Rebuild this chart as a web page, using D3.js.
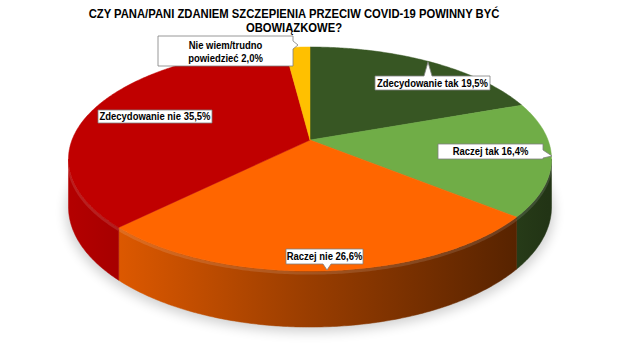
<!DOCTYPE html>
<html>
<head>
<meta charset="utf-8">
<script src="https://cdn.jsdelivr.net/npm/d3@7"></script>
<style>
  body { margin: 0; background: #fff; }
  text { font-family: "Liberation Sans", Arial, sans-serif; font-weight: bold; fill: #000; }
</style>
</head>
<body>
<div id="chart"></div>
<script>
// data
const titleLines = ["CZY PANA/PANI ZDANIEM SZCZEPIENIA PRZECIW COVID-19 POWINNY BYĆ", "OBOWIĄZKOWE?"];
const categories = ["Zdecydowanie tak", "Raczej tak", "Raczej nie", "Zdecydowanie nie", "Nie wiem/trudno powiedzieć"];
const values = [19.5, 16.4, 26.6, 35.5, 2.0];
const colors = ["#375623", "#70AD47", "#FF6600", "#C00000", "#FFC000"];
const labelLines = [
    ["Zdecydowanie tak 19,5%"],
    ["Raczej tak 16,4%"],
    ["Raczej nie 26,6%"],
    ["Zdecydowanie nie 35,5%"],
    ["Nie wiem/trudno", "powiedzieć  2,0%"]
];

// layout of the callouts (box + pointer tip), same order as categories
const labelBoxes = [
    { x: 375, y: 76, w: 115, h: 14, tip: [428, 62] },
    { x: 438, y: 144, w: 105, h: 15, tip: [552, 156] },
    { x: 286, y: 249, w: 77, h: 15, tip: [327, 270] },
    { x: 98, y: 110, w: 114, h: 13, tip: null },
    { x: 158, y: 36, w: 135, h: 30, tip: [298, 45] }
];

const width = 625, height = 355;
// pie seen in perspective: centre of the disc, radii, thickness, perspective strength
const cx = 310, cy = 140, A = 238, B = 108.8, depth = 56, p = 0.17;
const narrow = 0.86; // squeeze Liberation Sans towards Calibri widths

const svg = d3.select("#chart").append("svg")
    .attr("width", width)
    .attr("height", height);

const defs = svg.append("defs");
defs.append("filter").attr("id", "blur")
    .attr("x", "-20%").attr("y", "-30%").attr("width", "140%").attr("height", "160%")
    .append("feGaussianBlur").attr("stdDeviation", 6);

// project an angle (0 = top, clockwise) onto the tilted disc; side = 1 for the bottom rim
function proj(a, side = 0) {
    const u = Math.sin(a), w = -Math.cos(a), D = 1 - p * w;
    return [cx + A * u / D, cy + B * w / D + side * depth * (1 - p) / D];
}
function arcPoints(a0, a1, side = 0) {
    const n = Math.max(2, Math.ceil(Math.abs(a1 - a0) / 0.01));
    return d3.range(n + 1).map(i => proj(a0 + (a1 - a0) * i / n, side));
}

// silhouette angles where the rim turns away
const aR = Math.acos(-p), aL = 2 * Math.PI - aR;

const pie = d3.pie().sort(null).value(d => d)(values);
const line = d3.line();

// shadow
const shadowPts = arcPoints(0, 2 * Math.PI, 1).map(q => [cx + (q[0] - cx) * 1.01, q[1] + 5]);
svg.append("path")
    .attr("d", line(shadowPts) + "Z")
    .attr("fill", "#000")
    .attr("opacity", 0.18)
    .attr("filter", "url(#blur)");

// side gradients
function scaleColor(c, f) {
    const r = d3.rgb(c);
    return d3.rgb(r.r * f, r.g * f, r.b * f).formatHex();
}
pie.forEach((d, i) => {
    const g = defs.append("linearGradient")
        .attr("id", "side" + i)
        .attr("gradientUnits", "userSpaceOnUse")
        .attr("x1", cx - A).attr("x2", cx + A)
        .attr("y1", 0).attr("y2", 0);
    [[0, 0.93], [0.5, 0.6], [1, 0.3]].forEach(s => {
        g.append("stop").attr("offset", s[0]).attr("stop-color", scaleColor(colors[i], s[1]));
    });
});

// sides (front half only)
const sides = svg.append("g");
pie.forEach((d, i) => {
    const s0 = Math.max(d.startAngle, aR), s1 = Math.min(d.endAngle, aL);
    if (s1 <= s0) return;
    const top = arcPoints(s0, s1);
    const bot = arcPoints(s1, s0, 1);
    sides.append("path")
        .attr("d", line(top.concat(bot)) + "Z")
        .attr("fill", `url(#side${i})`)
        .attr("stroke", `url(#side${i})`)
        .attr("stroke-width", 0.5);
    // light rim along the top edge of the side
    sides.append("path")
        .attr("d", line(arcPoints(s0, s1).map(q => [q[0], q[1] + 2])))
        .attr("fill", "none")
        .attr("stroke", "#fff")
        .attr("stroke-opacity", 0.12)
        .attr("stroke-width", 3);
});

// top faces
const tops = svg.append("g");
pie.forEach((d, i) => {
    const pts = [[cx, cy]].concat(arcPoints(d.startAngle, d.endAngle));
    tops.append("path")
        .attr("d", line(pts) + "Z")
        .attr("fill", colors[i])
        .attr("stroke", colors[i])
        .attr("stroke-width", 0.5);
});

function squeeze(sel, f) {
    sel.each(function () {
        const w = this.getComputedTextLength();
        d3.select(this).attr("textLength", w * f).attr("lengthAdjust", "spacingAndGlyphs");
    });
}

// title
svg.append("g").selectAll("text")
    .data(titleLines)
    .enter()
    .append("text")
    .attr("x", 294)
    .attr("y", (d, i) => 18 + i * 14)
    .attr("text-anchor", "middle")
    .attr("font-size", 12.5)
    .text(d => d)
    .call(squeeze, 0.9);

// callouts
function calloutPath(b, tip) {
    const x0 = b.x, y0 = b.y, x1 = b.x + b.w, y1 = b.y + b.h, hw = 4;
    const pts = [[x0, y0]];
    if (tip && tip[1] < y0) {
        const c = Math.min(Math.max(tip[0], x0 + 6), x1 - 6);
        pts.push([c - hw, y0], tip, [c + hw, y0]);
    }
    pts.push([x1, y0]);
    if (tip && tip[0] > x1) {
        const c = Math.min(Math.max(tip[1], y0 + 5), y1 - 5);
        pts.push([x1, c - hw], tip, [x1, c + hw]);
    }
    pts.push([x1, y1]);
    if (tip && tip[1] > y1) {
        const c = Math.min(Math.max(tip[0], x0 + 6), x1 - 6);
        pts.push([c + hw, y1], tip, [c - hw, y1]);
    }
    pts.push([x0, y1]);
    if (tip && tip[0] < x0) {
        const c = Math.min(Math.max(tip[1], y0 + 5), y1 - 5);
        pts.push([x0, c + hw], tip, [x0, c - hw]);
    }
    return line(pts) + "Z";
}

const labels = svg.append("g");
labelBoxes.forEach((b, i) => {
    const g = labels.append("g");
    g.append("path")
        .attr("d", calloutPath(b, b.tip))
        .attr("fill", "#fff")
        .attr("stroke", "#7f7f7f")
        .attr("stroke-width", 0.8);
    const lines = labelLines[i];
    g.selectAll("text")
        .data(lines)
        .enter()
        .append("text")
        .attr("x", b.x + b.w / 2)
        .attr("y", (d, j) => b.y + b.h / 2 + (j - (lines.length - 1) / 2) * 13 + (lines.length > 1 ? 1 : 0))
        .attr("dy", "0.35em")
        .attr("text-anchor", "middle")
        .attr("font-size", 11)
        .text(d => d)
        .call(squeeze, narrow);
});
</script>
</body>
</html>
